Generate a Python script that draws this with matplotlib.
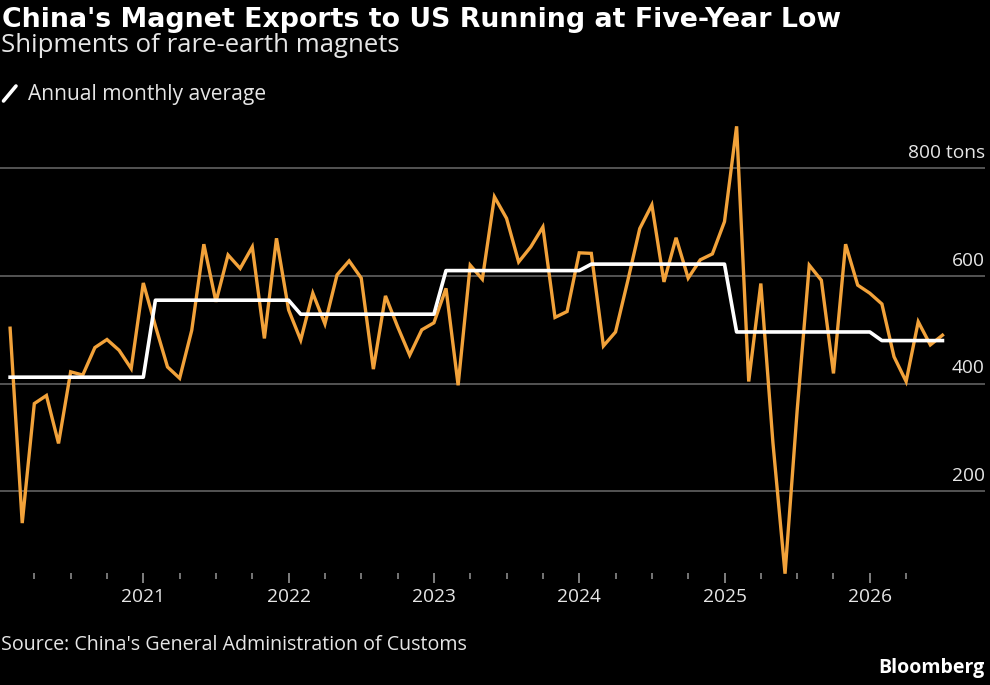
import matplotlib
matplotlib.use("Agg")
import matplotlib.pyplot as plt
from matplotlib.lines import Line2D
import numpy as np

# ---- data ----
years = [2020, 2021, 2022, 2023, 2024, 2025, 2026]
monthly_2020 = [503, 141, 363, 378, 289, 422, 416, 467, 482, 462, 428, 587]
monthly_2021 = [507, 431, 410, 499, 659, 552, 639, 614, 654, 484, 670, 537]
monthly_2022 = [481, 568, 511, 602, 628, 596, 427, 563, 506, 453, 500, 513]
monthly_2023 = [577, 397, 620, 594, 747, 707, 626, 654, 691, 523, 534, 643]
monthly_2024 = [642, 470, 496, 590, 688, 732, 589, 671, 596, 630, 641, 701]
monthly_2025 = [878, 404, 586, 290, 47, 350, 620, 592, 419, 659, 583, 568]
monthly_2026 = [548, 450, 404, 515, 472, 490]
annual_avg = [412, 555, 529, 610, 622, 496, 480]

tick_years = [2021, 2022, 2023, 2024, 2025, 2026]
tick_labels = ["2021", "2022", "2023", "2024", "2025", "2026"]
gridvals = [200, 400, 600, 800]
grid_labels = ["200", "400", "600", "800 tons"]

title = "China's Magnet Exports to US Running at Five-Year Low"
subtitle = "Shipments of rare-earth magnets"
legend_label = "Annual monthly average"
source = "Source: China's General Administration of Customs"

# ---- build series ----
series = [monthly_2020, monthly_2021, monthly_2022, monthly_2023,
          monthly_2024, monthly_2025, monthly_2026]
xs, vals, avg_line = [], [], []
for yr, mv, av in zip(years, series, annual_avg):
    for m, v in enumerate(mv, start=1):
        xs.append(yr + m / 12.0)   # plotted at month end
        vals.append(v)
        avg_line.append(av)

ORANGE = "#F2A23A"
BG = "black"
FONT = "Open Sans"
plt.rcParams["font.family"] = [FONT, "DejaVu Sans"]

W, H = 990, 685
fig = plt.figure(figsize=(W / 100, H / 100), dpi=100, facecolor=BG)

px_per_year = 145.3
x2021_px = 143.3
ax_right_px = 985
xmin = 2021 - x2021_px / px_per_year
xmax = 2021 + (ax_right_px - x2021_px) / px_per_year

# y mapping: 0 at 599px, 800 at 168.3px
ppu = (599 - 168.3) / 800.0
ax_bottom_px, ax_top_px = 573, 115
ymin = (599 - ax_bottom_px) / ppu
ymax = (599 - ax_top_px) / ppu

ax = fig.add_axes([0, 1 - ax_bottom_px / H, ax_right_px / W,
                   (ax_bottom_px - ax_top_px) / H])
ax.set_facecolor(BG)
ax.set_xlim(xmin, xmax)
ax.set_ylim(ymin, ymax)

for g in gridvals:
    ax.axhline(g, color="#5a5a5a", lw=1.3, zorder=1)

ax.plot(xs, vals, color=ORANGE, lw=2.4, zorder=3, clip_on=False,
        solid_joinstyle="miter")
ax.plot(xs, avg_line, color="white", lw=2.6, zorder=4, clip_on=False)

for spine in ax.spines.values():
    spine.set_visible(False)
ax.set_yticks([])
ax.set_xticks(tick_years)
ax.set_xticklabels(tick_labels)
minor = [y + q for y in [2020] + tick_years for q in (0.25, 0.5, 0.75)]
minor = [m for m in minor if xmin < m <= 2026.26]
ax.set_xticks(minor, minor=True)
ax.tick_params(axis="x", which="major", direction="out", length=7.2,
               width=1.3, color="#8a8a8a", labelcolor="#e6e6e6",
               labelsize=13.8, pad=3.5)
ax.tick_params(axis="x", which="minor", direction="out", length=4.3,
               width=1.2, color="#8a8a8a")

for g, lab in zip(gridvals, grid_labels):
    ax.annotate(lab, xy=(1.0, g), xycoords=("axes fraction", "data"),
                xytext=(0, 7.5), textcoords="offset points",
                ha="right", va="baseline", color="#e6e6e6", fontsize=13.8)

def fy(py):
    return 1 - py / H

fig.text(2 / W, fy(27), title, color="white", fontsize=19.3,
         fontweight="bold", ha="left", va="baseline",
         family=["DejaVu Sans"])
fig.text(1 / W, fy(52), subtitle, color="#e6e6e6", fontsize=18.5,
         ha="left", va="baseline")
fig.add_artist(Line2D([3.5 / W, 16 / W], [fy(101), fy(86)], color="white",
                      lw=2.6, solid_capstyle="round"))
fig.text(28 / W, fy(100), legend_label, color="#e6e6e6", fontsize=15.1,
         ha="left", va="baseline")
fig.text(1 / W, fy(650), source, color="#e6e6e6", fontsize=14.1,
         ha="left", va="baseline")
fig.text(985 / W, fy(673), "Bloomberg", color="white", fontsize=14,
         fontweight="bold", ha="right", va="baseline")

fig.savefig("out.png", dpi=100, facecolor=BG)
